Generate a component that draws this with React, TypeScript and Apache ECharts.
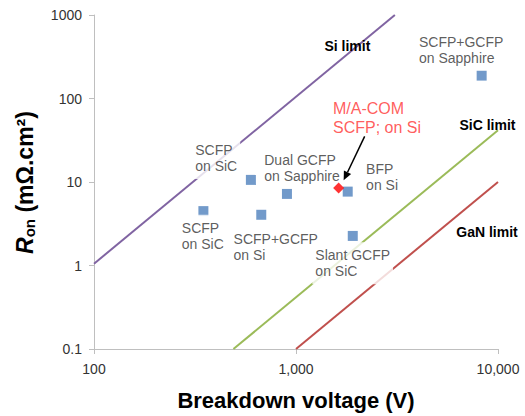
import React, { useEffect, useRef } from "react";
import * as echarts from "echarts";

// ---- data ----
const deviceLabels = [
  "SCFP\non SiC",
  "SCFP\non SiC",
  "SCFP+GCFP\non Si",
  "Dual GCFP\non Sapphire",
  "BFP\non Si",
  "Slant GCFP\non SiC",
  "SCFP+GCFP\non Sapphire",
];
const deviceVoltage = [348, 598, 673, 902, 1803, 1910, 8300];
const deviceRon = [4.48, 10.6, 4.05, 7.2, 7.67, 2.26, 188];

const macomLabel = "M/A-COM\nSCFP; on Si";
const macomVoltage = [1626];
const macomRon = [8.49];

const siLimitV = [100, 3086];
const siLimitR = [1.05, 1000];
const sicLimitV = [490, 10000];
const sicLimitR = [0.1, 41.6];
const ganLimitV = [1000, 10000];
const ganLimitR = [0.1, 10];
const limitNames = ["Si limit", "SiC limit", "GaN limit"];

const xTitle = "Breakdown voltage (V)";
const yTitleMain = "R";
const yTitleSub = "on";
const yTitleRest = " (mΩ.cm²)";

// ---- styles ----
const FONT = "Liberation Sans, Arial, sans-serif";
const BLUE = "#4F81BD";
const PURPLE = "#8064A2";
const GREEN = "#9BBB59";
const RED = "#C0504D";
const PAD = [5, 3, 5, 3];
// text top-left offsets from the point centre
const deviceLabelOffsets = [
  [-21.6, 8.6],
  [-55.7, -38],
  [-27.7, 16.7],
  [-22.7, -42.3],
  [18.4, -30.7],
  [-37.4, 11.4],
  [-62.7, -42],
];
const macomLabelOffset = [-5.6, -89];
const limitLabelOffsets = [
  [-47.5, 30.7],
  [-10.5, -5.7],
  [-11, 50],
];

function limitSeries(name: string, vs: number[], rs: number[], color: string, idx: number) {
  const data = vs.map((v, i) => {
    if (i === vs.length - 1) {
      return {
        value: [v, rs[i]],
        label: {
          show: true,
          formatter: name,
          position: "inside",
          align: "center",
          verticalAlign: "middle",
          offset: limitLabelOffsets[idx],
          color: "#000",
          fontFamily: FONT,
          fontSize: 14,
          fontWeight: "bold",
        },
      };
    }
    return { value: [v, rs[i]] };
  });
  return {
    type: "line",
    name,
    data,
    showSymbol: true,
    symbol: "circle",
    symbolSize: 0,
    lineStyle: { color, width: 2 },
    itemStyle: { color },
    z: 2,
    silent: true,
  };
}

export default function App() {
  const ref = useRef<HTMLDivElement>(null);

  useEffect(() => {
    document.body.style.margin = "0";
    if (!ref.current) return;
    const chart = echarts.init(ref.current, null, { renderer: "svg" });

    const deviceData = deviceVoltage.map((v, i) => ({
      value: [v, deviceRon[i]],
      label: {
        show: true,
        formatter: deviceLabels[i],
        position: "inside",
        align: "left",
        verticalAlign: "top",
        offset: [deviceLabelOffsets[i][0] - PAD[3], deviceLabelOffsets[i][1] - PAD[0]],
      },
    }));

    const macomData = macomVoltage.map((v, i) => ({
      value: [v, macomRon[i]],
      label: {
        show: true,
        formatter: macomLabel,
        position: "inside",
        align: "left",
        verticalAlign: "top",
        offset: macomLabelOffset,
        color: "#FF3333",
        fontSize: 16,
        lineHeight: 19,
        fontFamily: FONT,
      },
    }));

    const option: any = {
      animation: false,
      grid: { left: 94, right: 27, top: 15, bottom: 65 },
      xAxis: {
        type: "log",
        logBase: 10,
        min: 100,
        max: 10000,
        name: xTitle,
        nameLocation: "middle",
        nameGap: 40,
        nameTextStyle: { fontFamily: FONT, fontSize: 22, fontWeight: "bold", color: "#000" },
        axisLine: { show: true, lineStyle: { color: "#BFBFBF", width: 1 } },
        axisTick: { show: true, length: 5, lineStyle: { color: "#BFBFBF" } },
        minorTick: { show: false },
        splitLine: { show: false },
        axisLabel: {
          margin: 13,
          fontFamily: FONT,
          fontSize: 14,
          color: "#333",
          formatter: (v: number) => Math.round(v).toLocaleString("en-US"),
        },
      },
      yAxis: {
        type: "log",
        logBase: 10,
        min: 0.1,
        max: 1000,
        axisLine: { show: true, lineStyle: { color: "#BFBFBF", width: 1 } },
        axisTick: { show: true, length: 5, lineStyle: { color: "#BFBFBF" } },
        minorTick: { show: false },
        splitLine: { show: false },
        axisLabel: {
          margin: 12,
          fontFamily: FONT,
          fontSize: 14,
          color: "#333",
          formatter: (v: number) => (v < 1 ? v.toFixed(1) : String(Math.round(v))),
        },
      },
      series: [
        limitSeries(limitNames[0], siLimitV, siLimitR, PURPLE, 0),
        limitSeries(limitNames[1], sicLimitV, sicLimitR, GREEN, 1),
        limitSeries(limitNames[2], ganLimitV, ganLimitR, RED, 2),
        {
          type: "scatter",
          name: "devices",
          data: deviceData,
          symbol: "rect",
          symbolSize: 10,
          itemStyle: { color: BLUE },
          label: {
            fontFamily: FONT,
            fontSize: 14,
            lineHeight: 16,
            color: "#333",
            backgroundColor: "#fff",
            padding: PAD,
          },
          z: 10,
        },
        {
          type: "scatter",
          name: "M/A-COM",
          data: macomData,
          symbol: "diamond",
          symbolSize: 11,
          itemStyle: { color: "#FF0000" },
          z: 12,
        },
      ],
    };
    chart.setOption(option);

    // arrow from the M/A-COM label to its point
    const p = chart.convertToPixel({ xAxisIndex: 0, yAxisIndex: 0 }, [macomVoltage[0], macomRon[0]]) as number[];
    const start = [p[0] + 26, p[1] - 51.6];
    const tip = [p[0] + 5, p[1] - 7.6];
    const dx = tip[0] - start[0];
    const dy = tip[1] - start[1];
    const len = Math.hypot(dx, dy);
    const ux = dx / len;
    const uy = dy / len;
    const base = [tip[0] - ux * 9, tip[1] - uy * 9];
    const nx = -uy;
    const ny = ux;

    chart.setOption({
      graphic: [
        {
          type: "line",
          shape: { x1: start[0], y1: start[1], x2: base[0], y2: base[1] },
          style: { stroke: "#000", lineWidth: 1.5 },
          z: 20,
        },
        {
          type: "polygon",
          shape: {
            points: [
              tip,
              [base[0] + nx * 4, base[1] + ny * 4],
              [base[0] - nx * 4, base[1] - ny * 4],
            ],
          },
          style: { fill: "#000" },
          z: 20,
        },
        {
          type: "text",
          x: 25,
          y: 182.5,
          rotation: Math.PI / 2,
          style: {
            text: `{r|${yTitleMain}}{s|${yTitleSub}}{t|${yTitleRest}}`,
            align: "center",
            verticalAlign: "middle",
            fill: "#000",
            rich: {
              r: { fontFamily: FONT, fontSize: 23, fontWeight: "bold", fontStyle: "italic", fill: "#000" },
              s: { fontFamily: FONT, fontSize: 15, fontWeight: "bold", fill: "#000", verticalAlign: "bottom" },
              t: { fontFamily: FONT, fontSize: 23, fontWeight: "bold", fill: "#000" },
            },
          },
        },
      ],
    });

    return () => chart.dispose();
  }, []);

  return <div ref={ref} style={{ width: 525, height: 416 }} />;
}
